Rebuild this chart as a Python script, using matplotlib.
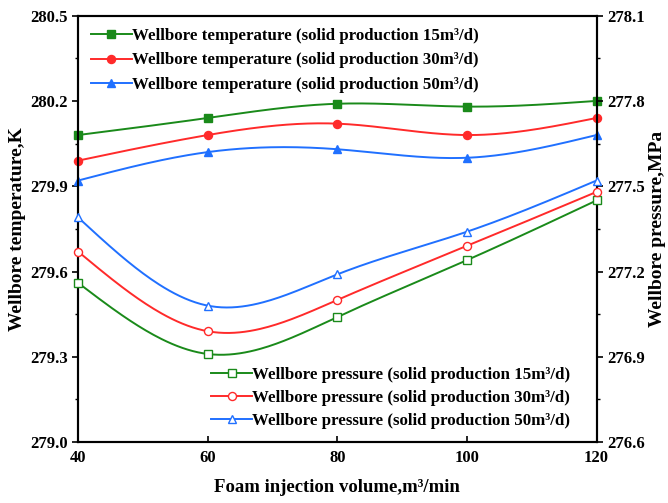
import numpy as np
import matplotlib
matplotlib.use("Agg")
import matplotlib.pyplot as plt
from matplotlib.ticker import MultipleLocator, AutoMinorLocator, FormatStrFormatter

plt.rcParams['font.family'] = ['Liberation Serif', 'DejaVu Serif']
plt.rcParams['font.weight'] = 'bold'

# data
foam = [40, 60, 80, 100, 120]
temp_15 = [280.08, 280.14, 280.19, 280.18, 280.20]
temp_30 = [279.99, 280.08, 280.12, 280.08, 280.14]
temp_50 = [279.92, 280.02, 280.03, 280.00, 280.08]
pres_15 = [277.16, 276.91, 277.04, 277.24, 277.45]
pres_30 = [277.27, 276.99, 277.10, 277.29, 277.48]
pres_50 = [277.39, 277.08, 277.19, 277.34, 277.52]
rates = ['15', '30', '50']
colors = ['#1a8a1a', '#ff2a2a', '#2070ff']


def smooth(x, y, n=200):
    # natural cubic spline through the points (Origin-like smoothed line)
    x = np.asarray(x, float)
    y = np.asarray(y, float)
    k = len(x)
    h = np.diff(x)
    A = np.zeros((k, k))
    b = np.zeros(k)
    A[0, 0] = A[-1, -1] = 1
    for i in range(1, k - 1):
        A[i, i - 1] = h[i - 1]
        A[i, i] = 2 * (h[i - 1] + h[i])
        A[i, i + 1] = h[i]
        b[i] = 6 * ((y[i + 1] - y[i]) / h[i] - (y[i] - y[i - 1]) / h[i - 1])
    M = np.linalg.solve(A, b)
    xs = np.linspace(x[0], x[-1], n)
    idx = np.clip(np.searchsorted(x, xs) - 1, 0, k - 2)
    x0, x1 = x[idx], x[idx + 1]
    hh = x1 - x0
    t0, t1 = x1 - xs, xs - x0
    ys = (M[idx] * t0 ** 3 + M[idx + 1] * t1 ** 3) / (6 * hh) \
        + (y[idx] / hh - M[idx] * hh / 6) * t0 \
        + (y[idx + 1] / hh - M[idx + 1] * hh / 6) * t1
    return xs, ys


fig = plt.figure(figsize=(6.68, 5.03), dpi=100)
ax = fig.add_axes([0.117, 0.121, 0.776, 0.848])
ax2 = ax.twinx()

temps = [temp_15, temp_30, temp_50]
press = [pres_15, pres_30, pres_50]
tmarks = ['s', 'o', '^']
LW, MS = 1.4, 5.8

h_top = []
for t, c, m, r in zip(temps, colors, tmarks, rates):
    xs, ys = smooth(foam, t)
    ax.plot(xs, ys, color=c, lw=LW, zorder=3)
    ax.plot(foam, t, ls='none', marker=m, color=c, ms=MS, zorder=4, clip_on=False)
    h, = ax.plot([], [], color=c, lw=LW, marker=m, ms=MS,
                 label='Wellbore temperature (solid production %sm³/d)' % r)
    h_top.append(h)

h_bot = []
for p, c, m, r in zip(press, colors, tmarks, rates):
    xs, ys = smooth(foam, p)
    ax2.plot(xs, ys, color=c, lw=LW, zorder=3)
    ax2.plot(foam, p, ls='none', marker=m, color=c, mfc='white', ms=MS,
             mew=1.0, zorder=4, clip_on=False)
    h, = ax2.plot([], [], color=c, lw=LW, marker=m, mfc='white', ms=MS, mew=1.0,
                  label='Wellbore pressure (solid production %sm³/d)' % r)
    h_bot.append(h)

ax.set_xlim(40, 120)
ax.set_ylim(279.0, 280.5)
ax2.set_ylim(276.6, 278.1)
ax.xaxis.set_major_locator(MultipleLocator(20))
for a in (ax, ax2):
    a.yaxis.set_major_locator(MultipleLocator(0.3))
    a.yaxis.set_minor_locator(AutoMinorLocator(2))
    a.yaxis.set_major_formatter(FormatStrFormatter('%.1f'))
    a.tick_params(axis='y', which='major', direction='out', length=4, width=1.2, labelsize=12)
    a.tick_params(axis='y', which='minor', direction='out', length=2.5, width=1.0)
    for sp in a.spines.values():
        sp.set_linewidth(1.5)

ax.tick_params(axis='x', direction='in', length=4, width=1.2, labelsize=12, pad=6, top=False)

ax.set_xlabel('Foam injection volume,m³/min', fontsize=13.5, fontweight='bold', labelpad=9)
ax.set_ylabel('Wellbore temperature,K', fontsize=14, fontweight='bold', labelpad=3)
ax2.set_ylabel('Wellbore pressure,MPa', fontsize=14, fontweight='bold', labelpad=3)

leg_kw = dict(frameon=False, prop={'size': 12.2, 'weight': 'bold'}, handlelength=2.4,
              handletextpad=0.0)
leg1 = ax2.legend(handles=h_top, loc='upper left', bbox_to_anchor=(0.0, 1.0),
                  borderaxespad=0.35, labelspacing=0.48, **leg_kw)
ax2.add_artist(leg1)
ax2.legend(handles=h_bot, loc='lower right', bbox_to_anchor=(0.975, 0.0),
           borderaxespad=0.4, labelspacing=0.4, **leg_kw)

fig.savefig('out.png', dpi=100)
